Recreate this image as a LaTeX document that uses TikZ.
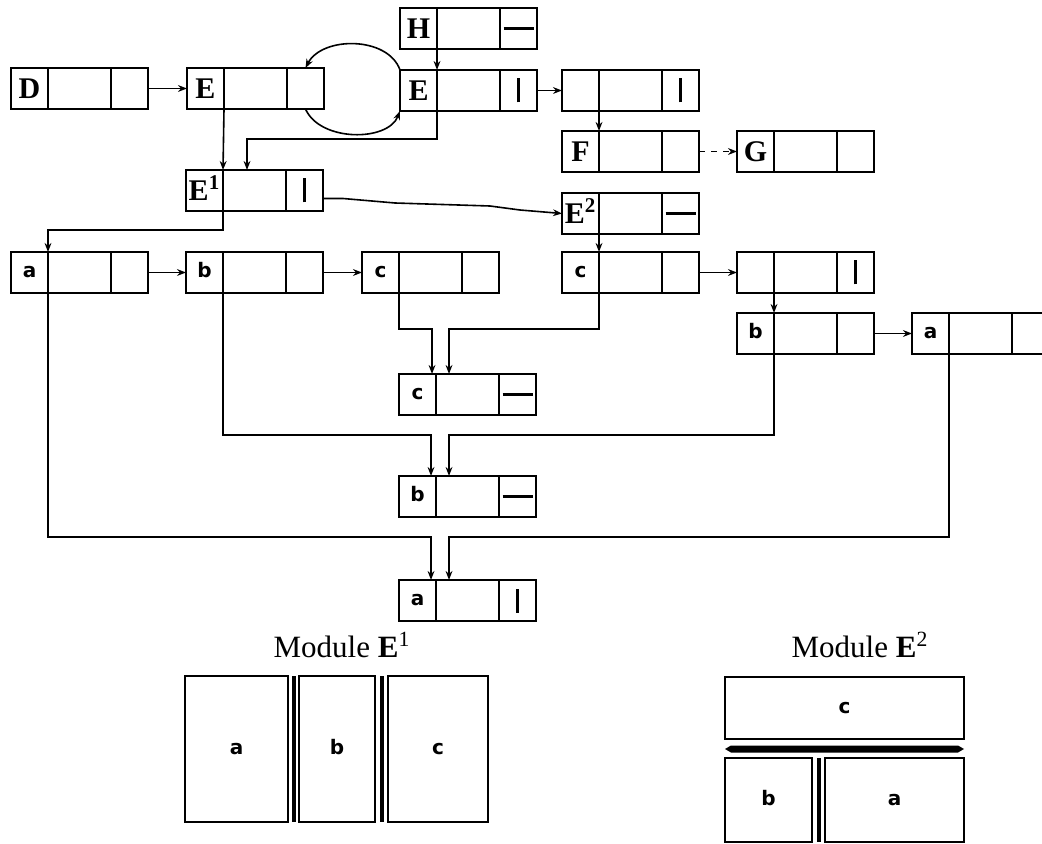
\documentclass[tikz,border=0pt]{standalone}
\usepackage{fontspec}
\setmainfont{Liberation Serif}
\newfontfamily\lcfamily{DejaVu Sans}
\usetikzlibrary{arrows.meta}
\newcommand\capf{\fontsize{15}{15}\selectfont\bfseries}
\newcommand\lcf{\fontsize{10}{10}\selectfont\lcfamily\bfseries}
\newcommand\lc[1]{{\lcf\raisebox{0pt}[1ex][0pt]{#1}}}
\newcommand\supone[1]{\smash{\textsuperscript{#1}}}
\newcommand\horbar{\rule{15pt}{1.6pt}}
\newcommand\verbar{\rule{1.7pt}{12pt}}
\newcommand\rec[5]{%
  \node[cellL] (#1-l) at (#2,#3) {#4};
  \node[cellM] (#1-m) at (#1-l.north east) {};
  \node[cellR] (#1-r) at (#1-m.north east) {#5};}
\tikzset{
  cellbase/.style={draw, line width=0.9pt, inner sep=0pt, outer sep=0pt, minimum height=20.5pt, anchor=north west},
  cellL/.style={cellbase, minimum width=18.5pt},
  cellM/.style={cellbase, minimum width=31.5pt},
  cellR/.style={cellbase, minimum width=18.5pt},
  arr/.style={-{Stealth[length=4.5pt,width=3.4pt]}, line width=0.8pt},
  modbox/.style={draw, line width=0.9pt, inner sep=0pt, outer sep=0pt, anchor=north west},
  modlabel/.style={anchor=base, font=\fontsize{15.5}{16}\selectfont},
  sep/.style={line width=2pt},
}
\begin{document}
\begin{tikzpicture}[x=0.5pt,y=-0.5pt]
\useasboundingbox (0,0) rectangle (1042,844);
% records
\rec{dd}{11}{68}{\capf D}{}
\rec{ea}{187}{68}{\capf E}{}
\rec{hh}{400}{8}{\capf H}{\horbar}
\rec{eb}{400}{70}{\capf E}{\verbar}
\rec{na}{562}{70}{}{\verbar}
\rec{ff}{562}{131}{\capf F}{}
\rec{gg}{737}{131}{\capf G}{}
\rec{e1}{186}{170}{\capf E\supone{1}}{\verbar}
\rec{e2}{562}{193}{\capf E\supone{2}}{\horbar}
\rec{a1}{11}{252}{\lc{a}}{}
\rec{b1}{186}{252}{\lc{b}}{}
\rec{c1}{362}{252}{\lc{c}}{}
\rec{c2}{562}{252}{\lc{c}}{}
\rec{nb}{737}{252}{}{\verbar}
\rec{b2}{737}{313}{\lc{b}}{}
\rec{a2}{912}{313}{\lc{a}}{}
\rec{mc}{399}{374}{\lc{c}}{\horbar}
\rec{mb}{399}{476}{\lc{b}}{\horbar}
\rec{ma}{399}{580}{\lc{a}}{\verbar}
% bend coordinates
\coordinate (j1) at (247,139);
\coordinate (j2) at (48,230);
\coordinate (k1) at (432,329);
\coordinate (k2) at (449,329);
\coordinate (k3) at (431,435);
\coordinate (k4) at (449,435);
\coordinate (k5) at (431,537);
\coordinate (k6) at (449,537);
% connectors
\draw[arr] (dd-r.east) -- (ea-l.west);
\draw[arr] (hh-l.south east) -- (eb-l.north east);
\draw[arr] (eb-r.east) -- (na-l.west);
\draw[arr] (na-l.south east) -- (ff-l.north east);
\draw[arr, dashed] (ff-r.east) -- (gg-l.west);
\draw[arr] (eb-l.north west) .. controls (388,36) and (322,36) .. (ea-r.north);
\draw[arr] (ea-r.south) .. controls (320,142) and (388,142) .. (eb-l.south west);
\draw[arr] (ea-l.south east) -- (e1-l.north east);
\draw[arr] (eb-l.south east) |- (j1) -- (j1 |- e1-m.north);
\draw[arr] (e1-l.south east) |- (j2) -- (a1-l.north east);
\draw[arr] ([yshift=-4pt]e1-r.east) -- ++(20,0) -- (395,203) -- (490,206) -- (520,210) -- (e2-l.west);
\draw[arr] (e2-l.south east) -- (c2-l.north east);
\draw[arr] (c2-r.east) -- (nb-l.west);
\draw[arr] (nb-l.south east) -- (b2-l.north east);
\draw[arr] (b2-r.east) -- (a2-l.west);
\draw[arr] (a1-r.east) -- (b1-l.west);
\draw[arr] (b1-r.east) -- (c1-l.west);
\draw[arr] (c1-l.south east) |- (k1) -- (k1 |- mc-l.north);
\draw[arr] (c2-l.south east) |- (k2) -- (k2 |- mc-l.north);
\draw[arr] (b1-l.south east) |- (k3) -- (k3 |- mb-l.north);
\draw[arr] (b2-l.south east) |- (k4) -- (k4 |- mb-l.north);
\draw[arr] (a1-l.south east) |- (k5) -- (k5 |- ma-l.north);
\draw[arr] (a2-l.south east) |- (k6) -- (k6 |- ma-l.north);
% Module E1
\node[modlabel] (m1lab) at (342,657) {Module \textbf{E}\textsuperscript{1}};
\node[modbox, minimum width=51.5pt, minimum height=73pt] (m1a) at (185,676) {\lc{a}};
\node[modbox, minimum width=38pt, minimum height=73pt] (m1b) at (299,676) {\lc{b}};
\node[modbox, minimum width=50pt, minimum height=73pt] (m1c) at (388,676) {\lc{c}};
\draw[sep] (293.5,676) -- (293.5,822);
\draw[sep] (381.5,676) -- (381.5,822);
% Module E2
\node[modlabel] (m2lab) at (860,657) {Module \textbf{E}\textsuperscript{2}};
\node[modbox, minimum width=119.5pt, minimum height=31pt] (m2c) at (725,677) {\lc{c}};
\node[modbox, minimum width=43.5pt, minimum height=42pt] (m2b) at (725,758) {\lc{b}};
\node[modbox, minimum width=69.5pt, minimum height=42pt] (m2a) at (825,758) {\lc{a}};
\fill (725,749) -- (731,745.5) -- (958,745.5) -- (964,749) -- (958,752.5) -- (731,752.5) -- cycle;
\draw[line width=1.6pt] (819,758) -- (819,842);
\end{tikzpicture}
\end{document}
